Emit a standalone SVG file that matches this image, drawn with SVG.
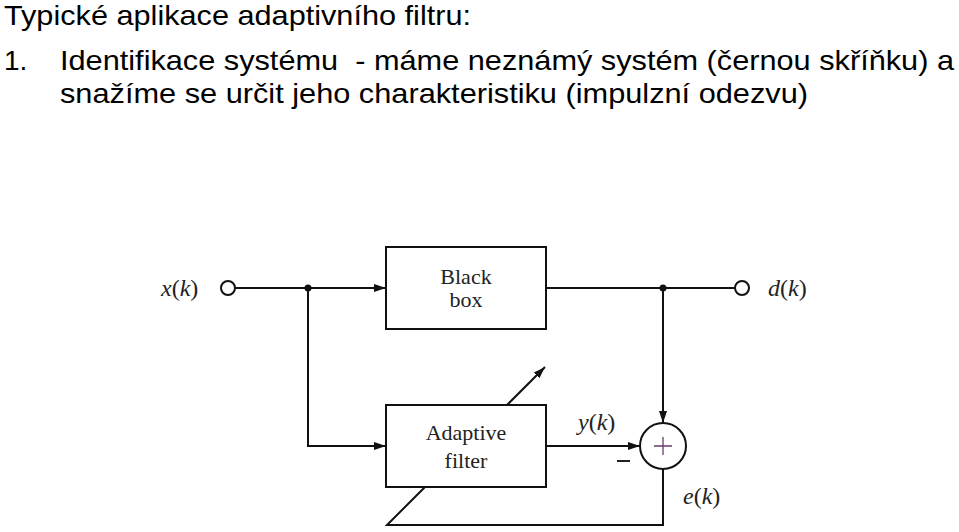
<svg xmlns="http://www.w3.org/2000/svg" width="959" height="532" viewBox="0 0 959 532">
<defs>
<style>
.hdr{font-family:"Liberation Sans","DejaVu Sans",sans-serif;font-size:28px;fill:#000;white-space:pre}
.lbl{font-family:"Liberation Serif","Times New Roman",serif;font-size:24px;fill:#222}
.box{font-family:"Liberation Serif","Times New Roman",serif;font-size:22px;fill:#222;text-anchor:middle}
.ln{fill:none;stroke:#111;stroke-width:2}
.nd{fill:#fff;stroke:#111;stroke-width:2}
</style>
<marker id="arr" markerUnits="userSpaceOnUse" markerWidth="12" markerHeight="8" refX="12" refY="4" orient="auto">
<path d="M0,0 L12,4 L0,8 z" fill="#111"/>
</marker>
</defs>
<rect width="959" height="532" fill="#fff"/>
<g id="header">
<text class="hdr" x="4" y="25" textLength="467" lengthAdjust="spacingAndGlyphs">Typické aplikace adaptivního filtru:</text>
<text class="hdr" x="4" y="70">1.</text>
<text class="hdr" x="60" y="70" textLength="894" lengthAdjust="spacingAndGlyphs">Identifikace systému  - máme neznámý systém (černou skříňku) a</text>
<text class="hdr" x="60" y="103" textLength="748" lengthAdjust="spacingAndGlyphs">snažíme se určit jeho charakteristiku (impulzní odezvu)</text>
</g>
<g id="connectors">
<line class="ln" x1="235" y1="288" x2="386" y2="288" marker-end="url(#arr)"/>
<polyline class="ln" points="308,288 308,446 386,446" marker-end="url(#arr)"/>
<line class="ln" x1="546" y1="288" x2="735" y2="288"/>
<line class="ln" x1="663" y1="288" x2="663" y2="423" marker-end="url(#arr)"/>
<line class="ln" x1="546" y1="446" x2="640" y2="446" marker-end="url(#arr)"/>
<polyline class="ln" points="663,469 663,525 387,525 427,485"/>
<line class="ln" x1="506" y1="406" x2="545" y2="367" marker-end="url(#arr)"/>
<circle cx="308" cy="288" r="3.5" fill="#111"/>
<circle cx="663" cy="288" r="3.5" fill="#111"/>
</g>
<g id="input">
<circle class="nd" cx="228" cy="288" r="7"/>
<text class="lbl" x="161" y="296"><tspan font-style="italic">x</tspan>(<tspan font-style="italic">k</tspan>)</text>
</g>
<g id="output">
<circle class="nd" cx="742" cy="288" r="7"/>
<text class="lbl" x="768" y="296"><tspan font-style="italic">d</tspan>(<tspan font-style="italic">k</tspan>)</text>
</g>
<g id="blackbox">
<rect class="nd" x="386" y="247" width="160" height="82"/>
<text class="box" x="466" y="284">Black</text>
<text class="box" x="466" y="307">box</text>
</g>
<g id="adaptive">
<rect class="nd" x="386" y="405" width="160" height="82"/>
<text class="box" x="466" y="440">Adaptive</text>
<text class="box" x="466" y="468">filter</text>
</g>
<g id="sum">
<circle class="nd" cx="663" cy="446" r="23"/>
<path d="M663,437 V455 M654,446 H672" stroke="#6a3a6a" stroke-width="1.3" fill="none"/>
<text class="lbl" x="578" y="430"><tspan font-style="italic">y</tspan>(<tspan font-style="italic">k</tspan>)</text>
<line x1="617" y1="461" x2="630" y2="461" stroke="#222" stroke-width="2"/>
<text class="lbl" x="683" y="504"><tspan font-style="italic">e</tspan>(<tspan font-style="italic">k</tspan>)</text>
</g>
</svg>
